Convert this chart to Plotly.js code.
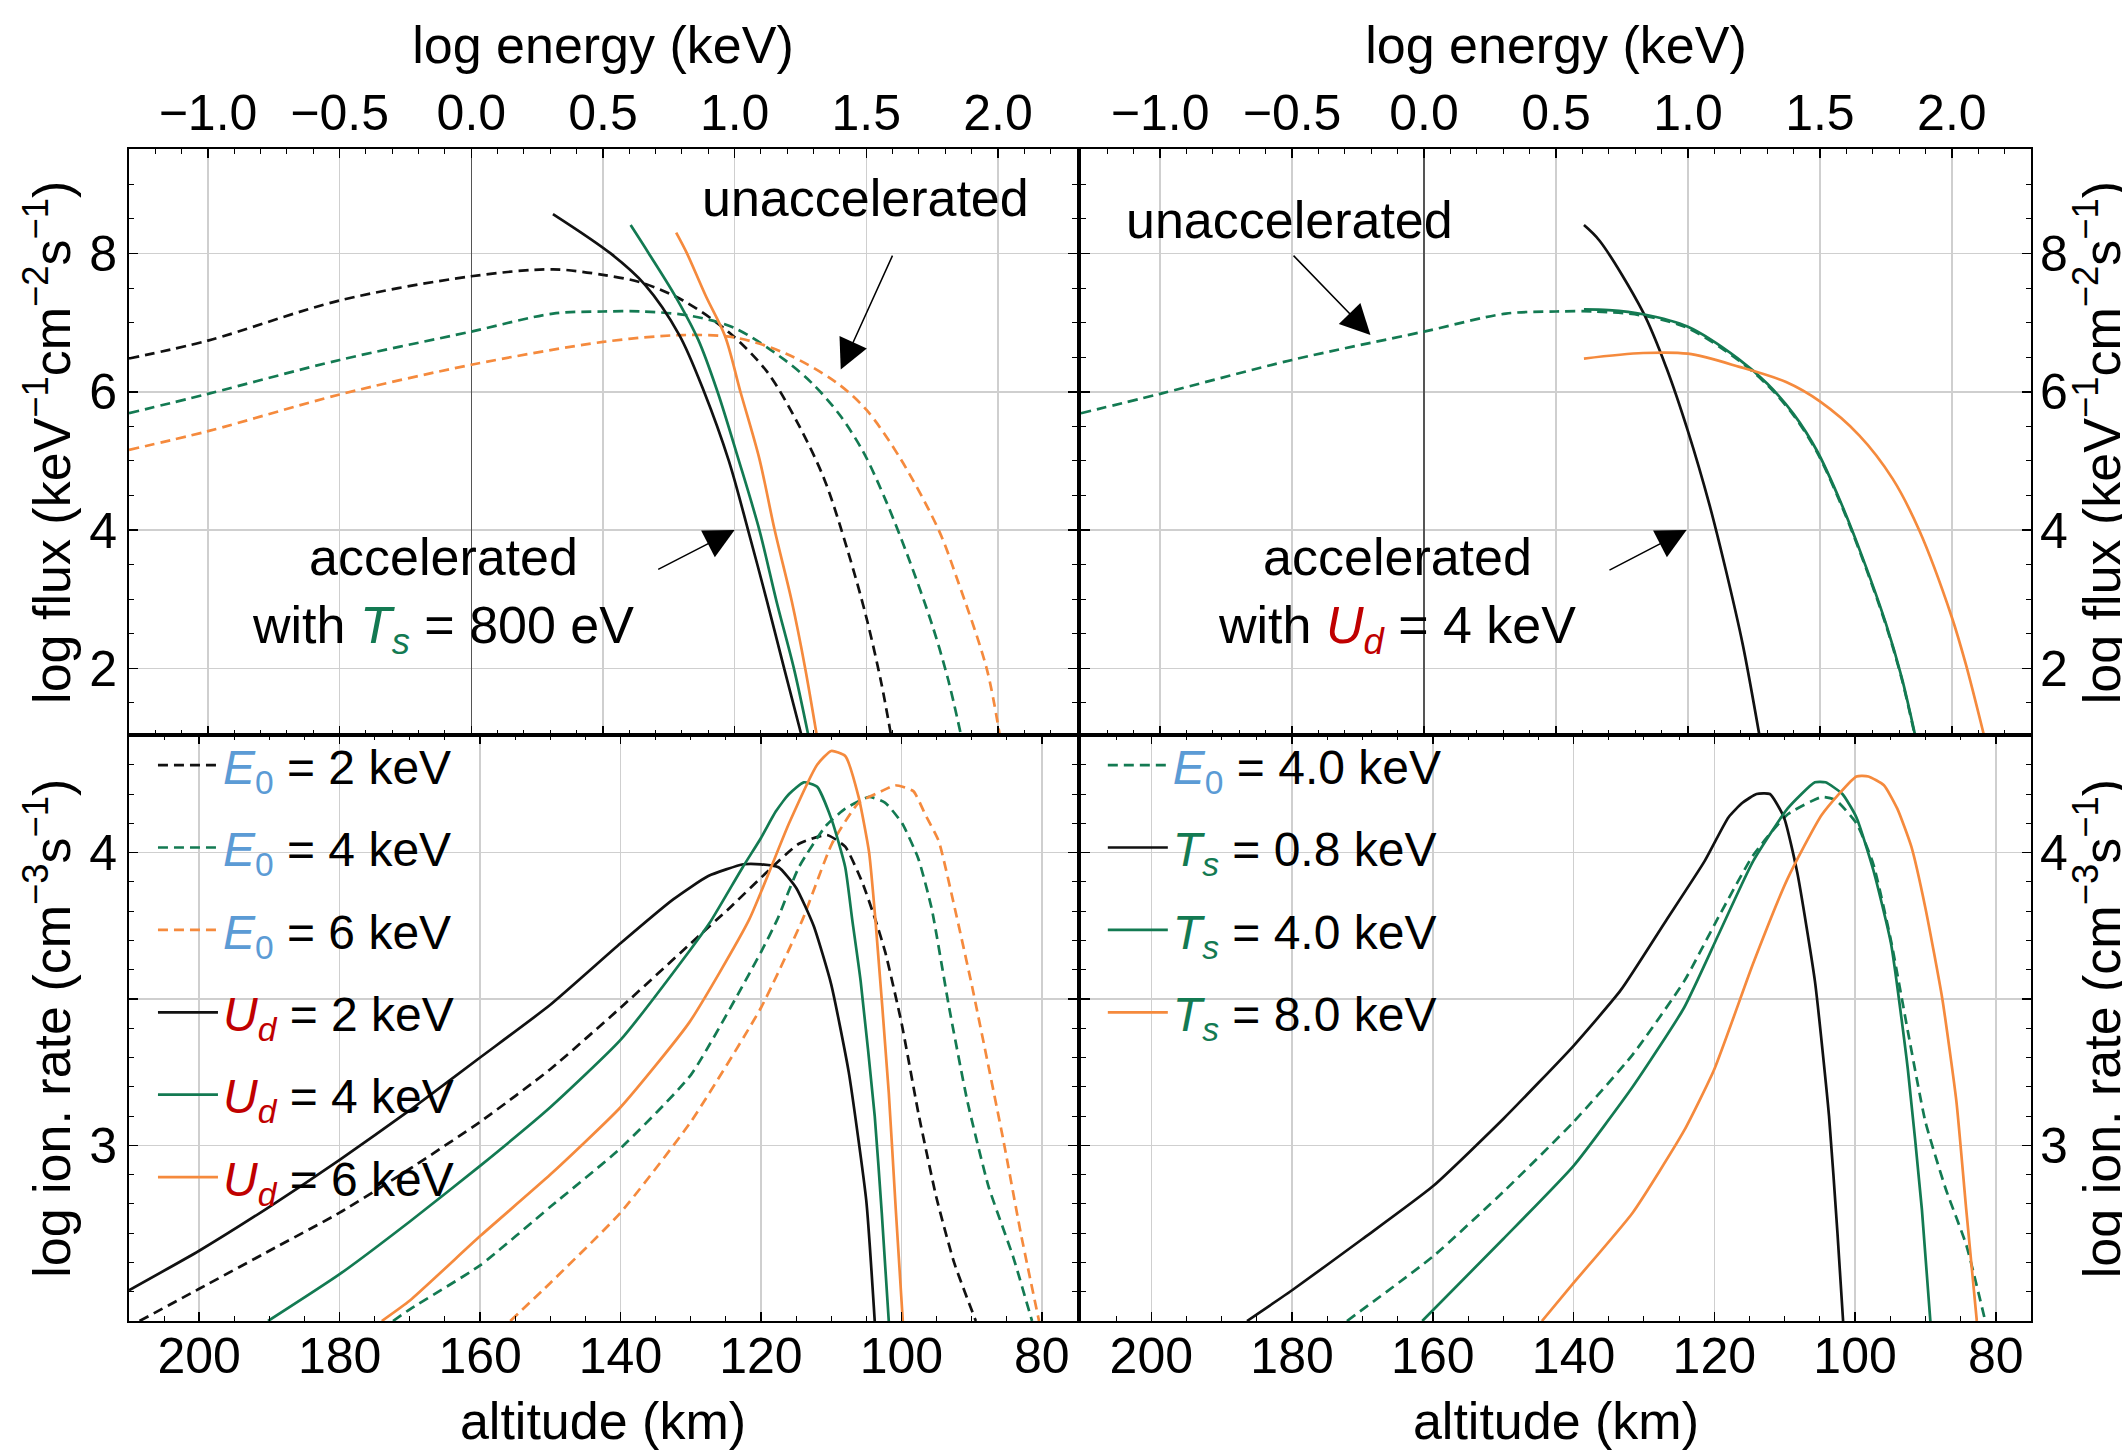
<!DOCTYPE html>
<html><head><meta charset="utf-8">
<script src="https://cdn.plot.ly/plotly-3.0.1.min.js"></script>
<style>html,body{margin:0;padding:0;background:#fff;} #chart{width:2122px;height:1451px;}</style>
</head><body><div id="chart"></div>
<script>
const FONT = '"Liberation Sans", Arial, Helvetica, sans-serif';
const BLACK = '#111111', GREEN = '#137a52', ORANGE = '#f58a3d', BLUE = '#5b9bd5', RED = '#c00000';

// ---------- Top panels: log flux vs log energy ----------
// unaccelerated, E0 = 2 keV
const logE_unacc2 = [-1.3, -1.0, -0.5, 0.0, 0.31, 0.5, 0.645, 0.804, 0.978, 1.123, 1.239, 1.34, 1.428, 1.5, 1.558, 1.594];
const flux_unacc2 = [6.48, 6.74, 7.32, 7.67, 7.77, 7.69, 7.58, 7.32, 6.86, 6.29, 5.55, 4.74, 3.72, 2.74, 1.77, 1.03];
// unaccelerated, E0 = 4 keV
const logE_unacc4 = [-1.3, -1.0, -0.5, 0.0, 0.31, 0.5, 0.65, 0.83, 1.0, 1.19, 1.30, 1.40, 1.49, 1.577, 1.66, 1.75, 1.81, 1.86];
const flux_unacc4 = [5.69, 5.97, 6.46, 6.87, 7.13, 7.16, 7.16, 7.10, 6.92, 6.46, 6.10, 5.66, 5.12, 4.40, 3.60, 2.63, 1.85, 1.03];
// unaccelerated, E0 = 6 keV
const logE_unacc6 = [-1.3, -1.0, -0.5, 0.0, 0.5, 0.804, 1.007, 1.196, 1.384, 1.5, 1.63, 1.775, 1.848, 1.957, 2.007];
const flux_unacc6 = [5.16, 5.43, 5.96, 6.39, 6.72, 6.82, 6.78, 6.55, 6.14, 5.74, 5.03, 4.0, 3.26, 2.0, 1.03];
// accelerated with Ts = 800 eV, Ud = 2, 4, 6 keV
const logE_ud2 = [0.31, 0.529, 0.659, 0.79, 0.884, 0.978, 1.051, 1.123, 1.188, 1.254];
const flux_ud2 = [8.57, 8.0, 7.55, 6.82, 6.0, 5.0, 4.0, 2.97, 2.0, 1.03];
const logE_ud4 = [0.605, 0.674, 0.775, 0.862, 0.935, 1.014, 1.094, 1.159, 1.225, 1.28];
const flux_ud4 = [8.41, 8.0, 7.38, 6.75, 6.0, 5.03, 4.0, 2.97, 2.0, 1.03];
const logE_ud6 = [0.778, 0.819, 0.891, 0.964, 1.022, 1.094, 1.152, 1.217, 1.268, 1.312];
const flux_ud6 = [8.30, 8.0, 7.38, 6.80, 6.0, 5.03, 4.0, 2.97, 2.0, 1.03];
// accelerated with Ud = 4 keV, Ts = 0.8, 4, 8 keV
const logE_ts08 = [0.606, 0.666, 0.83, 0.918, 1.0, 1.082, 1.145, 1.208, 1.271];
const flux_ts08 = [8.41, 8.18, 7.15, 6.35, 5.43, 4.36, 3.40, 2.34, 1.03];
const logE_ts4 = [0.606, 0.7, 0.83, 1.0, 1.19, 1.30, 1.40, 1.49, 1.577, 1.66, 1.75, 1.81, 1.86];
const flux_ts4 = [7.19, 7.18, 7.12, 6.94, 6.48, 6.12, 5.68, 5.14, 4.42, 3.62, 2.65, 1.87, 1.05];
const logE_ts8 = [0.606, 0.83, 1.0, 1.195, 1.372, 1.5, 1.649, 1.776, 1.876, 2.0, 2.053, 2.122];
const flux_ts8 = [6.48, 6.56, 6.55, 6.36, 6.14, 5.86, 5.37, 4.74, 4.0, 2.74, 2.06, 1.03];

// ---------- Bottom panels: log ionization rate vs altitude ----------
const alt_E0_2 = [208.5, 200, 190, 180, 170, 160, 150, 140, 130, 124.5, 119.3, 114.6, 110.6, 108, 105.6, 103.7, 102.3, 100, 97.5, 95, 92.5, 89.4];
const ion_E0_2 = [2.40, 2.51, 2.64, 2.77, 2.92, 3.08, 3.26, 3.47, 3.69, 3.81, 3.93, 4.03, 4.06, 4.02, 3.90, 3.77, 3.66, 3.42, 3.10, 2.82, 2.60, 2.40];
const alt_E0_4 = [172.4, 170, 160, 150, 140, 130, 120, 117.7, 114.6, 110.8, 108, 104.6, 102.3, 99.9, 97.6, 95.7, 93.2, 90.6, 87.6, 84.1, 81.4];
const ion_E0_4 = [2.40, 2.44, 2.59, 2.79, 2.99, 3.24, 3.66, 3.77, 3.95, 4.09, 4.15, 4.19, 4.17, 4.10, 3.98, 3.81, 3.47, 3.15, 2.86, 2.62, 2.40];
const alt_E0_6 = [155.7, 150, 140, 130, 120, 114.1, 109.9, 106.1, 102.8, 100.9, 98.3, 96.6, 94.7, 92.4, 90, 87.6, 85.5, 83, 80.4];
const ion_E0_6 = [2.40, 2.53, 2.77, 3.08, 3.47, 3.77, 4.03, 4.17, 4.21, 4.23, 4.21, 4.13, 4.04, 3.81, 3.55, 3.27, 3.02, 2.70, 2.40];
const alt_Ud2 = [210, 200, 190, 180, 170, 160, 150, 140, 132.5, 127.5, 122.5, 120, 117.5, 115, 112.5, 110, 107.5, 105, 103.8];
const ion_Ud2 = [2.505, 2.64, 2.79, 2.95, 3.12, 3.30, 3.48, 3.69, 3.84, 3.92, 3.96, 3.96, 3.95, 3.88, 3.75, 3.55, 3.25, 2.81, 2.40];
const alt_Ud4 = [190.2, 180, 170, 160, 150, 140, 130, 127.3, 122.6, 120, 117.9, 116, 113.9, 112, 109.9, 108, 107, 105.8, 103.8, 102.8, 101.8];
const ion_Ud4 = [2.40, 2.56, 2.74, 2.93, 3.13, 3.36, 3.67, 3.76, 3.95, 4.05, 4.14, 4.20, 4.24, 4.225, 4.11, 3.95, 3.77, 3.56, 3.10, 2.77, 2.40];
const alt_Ud6 = [174, 170, 160, 150, 140, 130.2, 121.7, 116, 112, 110, 108, 106.1, 104.6, 103.7, 101.8, 100.8, 99.8];
const ion_Ud6 = [2.40, 2.47, 2.69, 2.90, 3.13, 3.42, 3.77, 4.10, 4.30, 4.347, 4.33, 4.19, 4.00, 3.77, 3.18, 2.78, 2.40];
// right: E0 = 4.0 keV unaccelerated, Ts = 0.8, 4.0, 8.0 keV
const alt_R_E0_4 = [172.2, 160, 149.6, 140, 131.6, 124.3, 119.4, 114.5, 109.6, 104.7, 102.8, 99.8, 97.4, 94.9, 92.5, 90, 87.1, 84.2, 81.5];
const ion_R_E0_4 = [2.40, 2.62, 2.85, 3.08, 3.31, 3.56, 3.78, 3.99, 4.13, 4.19, 4.18, 4.10, 3.96, 3.70, 3.39, 3.08, 2.85, 2.66, 2.40];
const alt_Ts08 = [186.4, 180, 170, 160, 150, 140, 133.3, 126.8, 121.4, 118, 116, 114, 112.1, 110.1, 108.2, 105.7, 103.7, 102.5, 101.7];
const ion_Ts08 = [2.40, 2.505, 2.68, 2.86, 3.09, 3.34, 3.53, 3.77, 3.97, 4.12, 4.17, 4.20, 4.20, 4.12, 3.93, 3.56, 3.10, 2.70, 2.40];
const alt_Ts4 = [161.5, 150, 140, 131.6, 124.3, 119.4, 114.5, 109.6, 105.7, 104.2, 101.8, 99.8, 97.4, 94.9, 92.5, 90.5, 89.3];
const ion_Ts4 = [2.40, 2.68, 2.93, 3.20, 3.47, 3.72, 3.97, 4.15, 4.24, 4.24, 4.20, 4.12, 3.94, 3.69, 3.26, 2.78, 2.40];
const alt_Ts8 = [144.5, 140, 131.6, 124.3, 120, 114.5, 109.6, 104.7, 99.8, 98.1, 95.9, 94, 92, 90, 87.6, 85.6, 84.2, 82.7];
const ion_Ts8 = [2.40, 2.53, 2.77, 3.05, 3.26, 3.62, 3.91, 4.13, 4.26, 4.26, 4.23, 4.15, 4.02, 3.81, 3.50, 3.15, 2.78, 2.40];

// ---------- Text ----------
const energyTitle = 'log energy (keV)';
const altTitle = 'altitude (km)';
const fluxTitle = 'log flux (keV<sup>\u22121</sup>cm<sup>\u22122</sup>s<sup>\u22121</sup>)';
const ionTitle = 'log ion. rate (cm<sup>\u22123</sup>s<sup>\u22121</sup>)';
const ionTickVals = [3, 3.5, 4];
const ionTickText = ['3', '', '4'];
const E0 = '<span style="color:' + BLUE + '"><i>E</i><sub>0</sub></span>';
const Ud = '<span style="color:' + RED + '"><i>U<sub>d</sub></i></span>';
const Ts = '<span style="color:' + GREEN + '"><i>T<sub>s</sub></i></span>';
const legendLeftNames = [E0 + ' = 2 keV', E0 + ' = 4 keV', E0 + ' = 6 keV', Ud + ' = 2 keV', Ud + ' = 4 keV', Ud + ' = 6 keV'];
const legendRightNames = [E0 + ' = 4.0 keV', Ts + ' = 0.8 keV', Ts + ' = 4.0 keV', Ts + ' = 8.0 keV'];

function curve(x, y, xa, ya, color, dashed, smoothing, extra) {
  return Object.assign({
    type: 'scatter', mode: 'lines', x: x, y: y, xaxis: xa, yaxis: ya,
    line: {color: color, width: 2.7, dash: dashed ? '10px,6px' : 'solid', shape: 'spline', smoothing: smoothing},
    hoverinfo: 'skip', showlegend: false
  }, extra || {});
}
function leg(name, legend, group) {
  return {name: name, showlegend: true, legend: legend, legendgroup: group};
}
const S_TOP = 0.9, S_BOT = 0.5;

const traces = [
  // top-left
  curve(logE_unacc2, flux_unacc2, 'x', 'y', BLACK, true, S_TOP),
  curve(logE_unacc4, flux_unacc4, 'x', 'y', GREEN, true, S_TOP),
  curve(logE_unacc6, flux_unacc6, 'x', 'y', ORANGE, true, S_TOP),
  curve(logE_ud2, flux_ud2, 'x', 'y', BLACK, false, S_TOP),
  curve(logE_ud4, flux_ud4, 'x', 'y', GREEN, false, S_TOP),
  curve(logE_ud6, flux_ud6, 'x', 'y', ORANGE, false, S_TOP),
  // top-right
  curve(logE_unacc4, flux_unacc4, 'x3', 'y3', GREEN, true, S_TOP),
  curve(logE_ts08, flux_ts08, 'x3', 'y3', BLACK, false, S_TOP),
  curve(logE_ts4, flux_ts4, 'x3', 'y3', GREEN, false, S_TOP),
  curve(logE_ts8, flux_ts8, 'x3', 'y3', ORANGE, false, S_TOP),
  // bottom-left
  curve(alt_E0_2, ion_E0_2, 'x2', 'y2', BLACK, true, S_BOT, leg(legendLeftNames[0], 'legend', 'a1')),
  curve(alt_E0_4, ion_E0_4, 'x2', 'y2', GREEN, true, S_BOT, leg(legendLeftNames[1], 'legend', 'a2')),
  curve(alt_E0_6, ion_E0_6, 'x2', 'y2', ORANGE, true, S_BOT, leg(legendLeftNames[2], 'legend', 'a3')),
  curve(alt_Ud2, ion_Ud2, 'x2', 'y2', BLACK, false, S_BOT, leg(legendLeftNames[3], 'legend', 'a4')),
  curve(alt_Ud4, ion_Ud4, 'x2', 'y2', GREEN, false, S_BOT, leg(legendLeftNames[4], 'legend', 'a5')),
  curve(alt_Ud6, ion_Ud6, 'x2', 'y2', ORANGE, false, S_BOT, leg(legendLeftNames[5], 'legend', 'a6')),
  // bottom-right
  curve(alt_R_E0_4, ion_R_E0_4, 'x4', 'y4', GREEN, true, S_BOT, leg(legendRightNames[0], 'legend2', 'b1')),
  curve(alt_Ts08, ion_Ts08, 'x4', 'y4', BLACK, false, S_BOT, leg(legendRightNames[1], 'legend2', 'b2')),
  curve(alt_Ts4, ion_Ts4, 'x4', 'y4', GREEN, false, S_BOT, leg(legendRightNames[2], 'legend2', 'b3')),
  curve(alt_Ts8, ion_Ts8, 'x4', 'y4', ORANGE, false, S_BOT, leg(legendRightNames[3], 'legend2', 'b4'))
];

const tickFont = {family: FONT, size: 50, color: '#000'};
const titleFont = {family: FONT, size: 52, color: '#000'};
function ax(extra) {
  return Object.assign({
    showline: true, linecolor: '#000', linewidth: 2, mirror: 'ticks',
    ticks: 'inside', ticklen: 9, tickwidth: 1.5, tickcolor: '#000',
    showgrid: true, gridcolor: '#cfcfcf', gridwidth: 1.5, zeroline: false,
    tickfont: tickFont, fixedrange: true
  }, extra);
}
const LDOM = [0, 0.4984], RDOM = [0.5005, 1], TDOM = [0.4996, 1], BDOM = [0, 0.4996];
function energyAxis(domain, anchor) {
  return ax({domain: domain, anchor: anchor, side: 'top', range: [-1.3, 2.3], tickmode: 'linear', tick0: 0, dtick: 0.5,
    tickformat: '.1f', zeroline: true, zerolinecolor: '#555', zerolinewidth: 1.5, ticklabelstandoff: -3,
    minor: {ticks: 'inside', dtick: 0.1, ticklen: 5, tickwidth: 1, tickcolor: '#000', showgrid: false},
    title: {text: energyTitle, font: titleFont, standoff: 5}});
}
function altAxis(domain, anchor) {
  return ax({domain: domain, anchor: anchor, side: 'bottom', range: [210, 75], tickmode: 'linear', tick0: 0, dtick: 20,
    ticklabelstandoff: -10,
    minor: {ticks: 'inside', dtick: 5, ticklen: 5, tickwidth: 1, tickcolor: '#000', showgrid: false},
    title: {text: altTitle, font: titleFont, standoff: 20}});
}
// left-side axes carry their titles; right-side titles are placed as annotations (they run past the page edge)
function fluxAxis(domain, anchor, side) {
  return ax({domain: domain, anchor: anchor, side: side, range: [1.03, 9.51], tickmode: 'linear', tick0: 0, dtick: 2,
    ticklabelstandoff: side === 'left' ? 0 : -3,
    minor: {ticks: 'inside', dtick: 0.5, ticklen: 5, tickwidth: 1, tickcolor: '#000', showgrid: false},
    title: {text: side === 'left' ? fluxTitle : '', font: titleFont, standoff: 2}});
}
function ionAxis(domain, anchor, side) {
  return ax({domain: domain, anchor: anchor, side: side, range: [2.4, 4.4], tickmode: 'array', tickvals: ionTickVals, ticktext: ionTickText,
    ticklabelstandoff: side === 'left' ? 0 : -3,
    minor: {ticks: 'inside', tickmode: 'linear', tick0: 0, dtick: 0.1, ticklen: 5, tickwidth: 1, tickcolor: '#000', showgrid: false},
    title: {text: side === 'left' ? ionTitle : '', font: titleFont, standoff: 2}});
}

const annFont = {family: FONT, size: 52, color: '#000'};
function txt(x, y, xr, yr, text) {
  return {x: x, y: y, xref: xr, yref: yr, text: text, showarrow: false, font: annFont, xanchor: 'center', yanchor: 'middle'};
}
function arrow(x, y, ax_, ay_, xr, yr) {
  return {x: x, y: y, ax: ax_, ay: ay_, xref: xr, yref: yr, axref: xr, ayref: yr, text: '', showarrow: true,
    arrowhead: 2, arrowsize: 4, arrowwidth: 1.5, arrowcolor: '#000'};
}
function sideTitle(y, text) {
  return {x: 1.0352, y: y, xref: 'paper', yref: 'paper', text: text, textangle: -90, showarrow: false,
    font: titleFont, xanchor: 'center', yanchor: 'middle'};
}
const annotations = [
  txt(1.496, 8.80, 'x', 'y', 'unaccelerated'),
  arrow(1.403, 6.32, 1.602, 7.99, 'x', 'y'),
  txt(-0.106, 3.06, 'x', 'y', 'accelerated<br>with ' + Ts + ' = 800 eV'),
  arrow(1.0, 4.0, 0.704, 3.42, 'x', 'y'),
  txt(-0.509, 8.49, 'x3', 'y3', 'unaccelerated'),
  arrow(-0.203, 6.82, -0.50, 7.99, 'x3', 'y3'),
  txt(-0.104, 3.06, 'x3', 'y3', 'accelerated<br>with ' + Ud + ' = 4 keV'),
  arrow(0.995, 4.0, 0.697, 3.41, 'x3', 'y3'),
  sideTitle((TDOM[0] + TDOM[1]) / 2, fluxTitle),
  sideTitle((BDOM[0] + BDOM[1]) / 2, ionTitle)
];

const legendBase = {xanchor: 'left', yanchor: 'top', bgcolor: 'rgba(0,0,0,0)', borderwidth: 0,
  font: {family: FONT, size: 48, color: '#000'}, itemwidth: 60, tracegroupgap: 17, traceorder: 'grouped'};

const layout = {
  width: 2122, height: 1451,
  margin: {l: 129, r: 91, t: 149, b: 130, pad: 0},
  paper_bgcolor: '#fff', plot_bgcolor: '#fff',
  font: {family: FONT, size: 50, color: '#000'},
  xaxis: energyAxis(LDOM, 'y'),
  yaxis: fluxAxis(TDOM, 'x', 'left'),
  xaxis2: altAxis(LDOM, 'y2'),
  yaxis2: ionAxis(BDOM, 'x2', 'left'),
  xaxis3: energyAxis(RDOM, 'y3'),
  yaxis3: fluxAxis(TDOM, 'x3', 'right'),
  xaxis4: altAxis(RDOM, 'y4'),
  yaxis4: ionAxis(BDOM, 'x4', 'right'),
  showlegend: true,
  legend: Object.assign({x: 0.0126, y: 0.5065}, legendBase),
  legend2: Object.assign({x: 0.512, y: 0.5065}, legendBase),
  annotations: annotations
};

Plotly.newPlot('chart', traces, layout, {displayModeBar: false, staticPlot: true});
</script></body></html>
